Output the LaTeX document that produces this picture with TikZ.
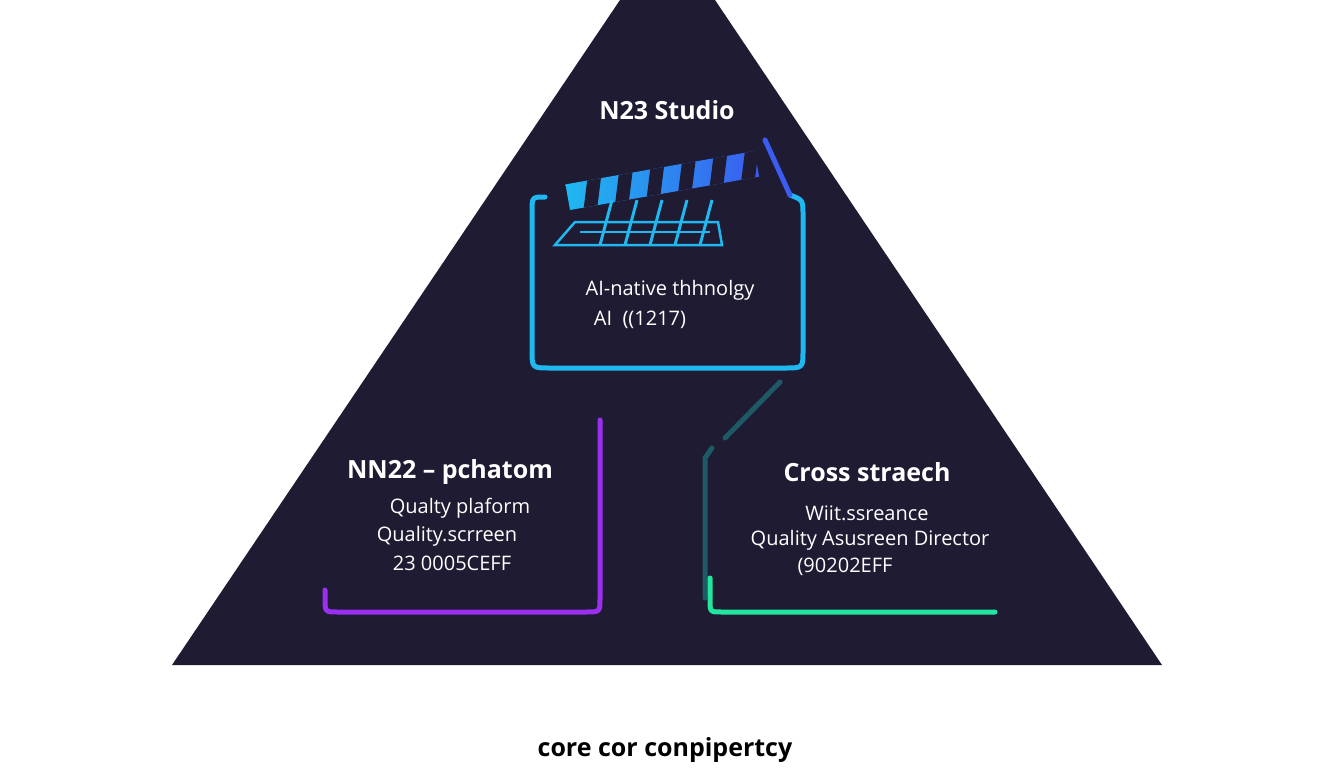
\documentclass[tikz,border=0pt]{standalone}
\usepackage{fontspec}
\setmainfont{Open Sans}
\usetikzlibrary{calc}
\definecolor{navy}{HTML}{1E1B33}
\definecolor{cyanA}{HTML}{1FB8F0}
\definecolor{blueA}{HTML}{3A5CF0}
\definecolor{violetA}{HTML}{9B2FF0}
\definecolor{magA}{HTML}{C03CE8}
\definecolor{tealA}{HTML}{1E5A66}
\definecolor{greenA}{HTML}{22E6A0}
\begin{document}
\begin{tikzpicture}[x=1pt,y=-1pt,
  lbl/.style={text=white,font=\fontsize{20}{24}\selectfont},
  big/.style={text=white,font=\fontsize{25}{28}\selectfont\bfseries},
  glow/.style={line width=5pt,line cap=round,line join=round}]
\useasboundingbox (0,0) rectangle (1344,768);
\fill[white] (0,0) rectangle (1344,768);
\fill[navy] (620,0) -- (715,0) -- (1162,665) -- (172,665) -- cycle;
% top box
\draw[glow,cyanA] (545,197) .. controls (532,197) .. (532,212) -- (532,350) .. controls (532,368) .. (550,368) -- (785,368) .. controls (803,368) .. (803,350) -- (803,215) .. controls (803,200) .. (790,195);
\draw[glow,blueA] (790,195) -- (765,140);
% clapper stripes bar
\begin{scope}[shift={(570,210)},rotate=10]
\shade[left color=cyanA,right color=blueA] (0,0) rectangle (192,-26);
\foreach \i in {0,...,5}{\fill[navy] (\i*32+14,0) -- (\i*32+28,0) -- (\i*32+36,-26) -- (\i*32+22,-26) -- cycle;}
\end{scope}
\node[name=clap,inner sep=0] at (640,228) {};
\draw[cyanA,line width=2.5pt] (575,222) -- (718,222) -- (722,245) -- (555,245) -- cycle;
\draw[cyanA,line width=2.5pt] (580,232) -- (710,232);
\foreach \x in {600,625,650,675,700}{\draw[cyanA,line width=3pt] (\x,245) -- (\x+12,200);}
\node[big] (t1) at (667,110) {N23 Studio};
\node[lbl] (t2) at (670,290) {AI-native thhnolgy};
\node[lbl] (t3) at (640,320) {AI\ \ ((1217)};
% left bracket
\draw[glow,violetA] (600,420) -- (600,598) .. controls (600,612) .. (586,612) -- (338,612) .. controls (325,612) .. (325,598) -- (325,590);
\node[big] (l1) at (450,472) {NN22 – pchatom};
\node[lbl] (l2) at (460,508) {Qualty plaform};
\node[lbl] (l3) at (447,536) {Quality.scrreen};
\node[lbl] (l4) at (452,563) {23 0005CEFF};
% right bracket
\draw[glow,tealA] (780,382) -- (725,438);
\draw[glow,tealA] (712,448) -- (705,458) -- (705,598);
\draw[glow,greenA] (710,578) -- (710,600) .. controls (710,612) .. (722,612) -- (995,612);
\node[big] (r1) at (867,472) {Cross straech};
\node[lbl] (r2) at (867,513) {Wiit.ssreance};
\node[lbl] (r3) at (870,540) {Quality Asusreen Director};
\node[lbl] (r4) at (845,567) {(90202EFF};
\node[font=\fontsize{25}{28}\selectfont\bfseries] (b) at (665,750) {core cor conpipertcy};
\end{tikzpicture}
\end{document}
